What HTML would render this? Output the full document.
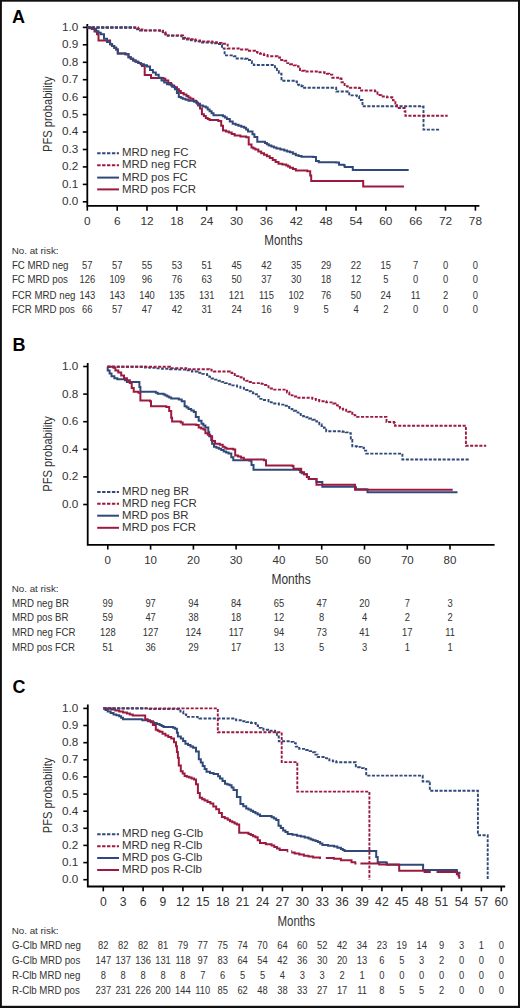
<!DOCTYPE html><html><head><meta charset="utf-8"><style>html,body{margin:0;padding:0;background:#fff;width:520px;height:1008px;overflow:hidden}svg{display:block}text{font-family:"Liberation Sans", sans-serif}</style></head><body>
<svg width="520" height="1008" viewBox="0 0 520 1008">
<rect x="0" y="0" width="520" height="1008" fill="#fff"/>
<rect x="0" y="0" width="520" height="1.7" fill="#111"/><rect x="0" y="0" width="1.9" height="1008" fill="#111"/><rect x="518" y="0" width="2" height="1008" fill="#111"/><rect x="0" y="1005.8" width="520" height="2.2" fill="#111"/>
<text x="12.0" y="22.8" font-size="18" font-weight="bold" fill="#000">A</text>
<path d="M87.3 24.0 V205.9 H479.4" fill="none" stroke="#000" stroke-width="1.8"/>
<line x1="82.8" y1="201.8" x2="87.3" y2="201.8" stroke="#000" stroke-width="1.6"/>
<text x="78.2" y="205.2" font-size="11.7" fill="#333333" text-anchor="end">0.0</text>
<line x1="82.8" y1="184.4" x2="87.3" y2="184.4" stroke="#000" stroke-width="1.6"/>
<text x="78.2" y="187.8" font-size="11.7" fill="#333333" text-anchor="end">0.1</text>
<line x1="82.8" y1="166.9" x2="87.3" y2="166.9" stroke="#000" stroke-width="1.6"/>
<text x="78.2" y="170.3" font-size="11.7" fill="#333333" text-anchor="end">0.2</text>
<line x1="82.8" y1="149.5" x2="87.3" y2="149.5" stroke="#000" stroke-width="1.6"/>
<text x="78.2" y="152.9" font-size="11.7" fill="#333333" text-anchor="end">0.3</text>
<line x1="82.8" y1="132.0" x2="87.3" y2="132.0" stroke="#000" stroke-width="1.6"/>
<text x="78.2" y="135.4" font-size="11.7" fill="#333333" text-anchor="end">0.4</text>
<line x1="82.8" y1="114.6" x2="87.3" y2="114.6" stroke="#000" stroke-width="1.6"/>
<text x="78.2" y="118.0" font-size="11.7" fill="#333333" text-anchor="end">0.5</text>
<line x1="82.8" y1="97.2" x2="87.3" y2="97.2" stroke="#000" stroke-width="1.6"/>
<text x="78.2" y="100.6" font-size="11.7" fill="#333333" text-anchor="end">0.6</text>
<line x1="82.8" y1="79.7" x2="87.3" y2="79.7" stroke="#000" stroke-width="1.6"/>
<text x="78.2" y="83.1" font-size="11.7" fill="#333333" text-anchor="end">0.7</text>
<line x1="82.8" y1="62.3" x2="87.3" y2="62.3" stroke="#000" stroke-width="1.6"/>
<text x="78.2" y="65.7" font-size="11.7" fill="#333333" text-anchor="end">0.8</text>
<line x1="82.8" y1="44.8" x2="87.3" y2="44.8" stroke="#000" stroke-width="1.6"/>
<text x="78.2" y="48.2" font-size="11.7" fill="#333333" text-anchor="end">0.9</text>
<line x1="82.8" y1="27.4" x2="87.3" y2="27.4" stroke="#000" stroke-width="1.6"/>
<text x="78.2" y="30.8" font-size="11.7" fill="#333333" text-anchor="end">1.0</text>
<line x1="87.3" y1="205.9" x2="87.3" y2="210.7" stroke="#000" stroke-width="1.6"/>
<text x="87.3" y="224.7" font-size="11.8" fill="#333333" text-anchor="middle">0</text>
<line x1="117.2" y1="205.9" x2="117.2" y2="210.7" stroke="#000" stroke-width="1.6"/>
<text x="117.2" y="224.7" font-size="11.8" fill="#333333" text-anchor="middle">6</text>
<line x1="147.0" y1="205.9" x2="147.0" y2="210.7" stroke="#000" stroke-width="1.6"/>
<text x="147.0" y="224.7" font-size="11.8" fill="#333333" text-anchor="middle">12</text>
<line x1="176.9" y1="205.9" x2="176.9" y2="210.7" stroke="#000" stroke-width="1.6"/>
<text x="176.9" y="224.7" font-size="11.8" fill="#333333" text-anchor="middle">18</text>
<line x1="206.7" y1="205.9" x2="206.7" y2="210.7" stroke="#000" stroke-width="1.6"/>
<text x="206.7" y="224.7" font-size="11.8" fill="#333333" text-anchor="middle">24</text>
<line x1="236.6" y1="205.9" x2="236.6" y2="210.7" stroke="#000" stroke-width="1.6"/>
<text x="236.6" y="224.7" font-size="11.8" fill="#333333" text-anchor="middle">30</text>
<line x1="266.4" y1="205.9" x2="266.4" y2="210.7" stroke="#000" stroke-width="1.6"/>
<text x="266.4" y="224.7" font-size="11.8" fill="#333333" text-anchor="middle">36</text>
<line x1="296.2" y1="205.9" x2="296.2" y2="210.7" stroke="#000" stroke-width="1.6"/>
<text x="296.2" y="224.7" font-size="11.8" fill="#333333" text-anchor="middle">42</text>
<line x1="326.1" y1="205.9" x2="326.1" y2="210.7" stroke="#000" stroke-width="1.6"/>
<text x="326.1" y="224.7" font-size="11.8" fill="#333333" text-anchor="middle">48</text>
<line x1="356.0" y1="205.9" x2="356.0" y2="210.7" stroke="#000" stroke-width="1.6"/>
<text x="356.0" y="224.7" font-size="11.8" fill="#333333" text-anchor="middle">54</text>
<line x1="385.8" y1="205.9" x2="385.8" y2="210.7" stroke="#000" stroke-width="1.6"/>
<text x="385.8" y="224.7" font-size="11.8" fill="#333333" text-anchor="middle">60</text>
<line x1="415.7" y1="205.9" x2="415.7" y2="210.7" stroke="#000" stroke-width="1.6"/>
<text x="415.7" y="224.7" font-size="11.8" fill="#333333" text-anchor="middle">66</text>
<line x1="445.5" y1="205.9" x2="445.5" y2="210.7" stroke="#000" stroke-width="1.6"/>
<text x="445.5" y="224.7" font-size="11.8" fill="#333333" text-anchor="middle">72</text>
<line x1="475.4" y1="205.9" x2="475.4" y2="210.7" stroke="#000" stroke-width="1.6"/>
<text x="475.4" y="224.7" font-size="11.8" fill="#333333" text-anchor="middle">78</text>
<text x="264.2" y="244.7" font-size="14" fill="#333333" textLength="38.3" lengthAdjust="spacingAndGlyphs">Months</text>
<text transform="translate(52.3 114.3) rotate(-90)" x="0" y="0" font-size="13.5" fill="#333333" text-anchor="middle" textLength="75.5" lengthAdjust="spacingAndGlyphs">PFS probability</text>
<text x="12.4" y="351.0" font-size="18" font-weight="bold" fill="#000">B</text>
<path d="M87.7 363.0 V544.8 H494.6" fill="none" stroke="#000" stroke-width="1.8"/>
<line x1="83.2" y1="504.5" x2="87.7" y2="504.5" stroke="#000" stroke-width="1.6"/>
<text x="78.2" y="507.9" font-size="11.7" fill="#333333" text-anchor="end">0.0</text>
<line x1="83.2" y1="476.9" x2="87.7" y2="476.9" stroke="#000" stroke-width="1.6"/>
<text x="78.2" y="480.3" font-size="11.7" fill="#333333" text-anchor="end">0.2</text>
<line x1="83.2" y1="449.3" x2="87.7" y2="449.3" stroke="#000" stroke-width="1.6"/>
<text x="78.2" y="452.7" font-size="11.7" fill="#333333" text-anchor="end">0.4</text>
<line x1="83.2" y1="421.7" x2="87.7" y2="421.7" stroke="#000" stroke-width="1.6"/>
<text x="78.2" y="425.1" font-size="11.7" fill="#333333" text-anchor="end">0.6</text>
<line x1="83.2" y1="394.1" x2="87.7" y2="394.1" stroke="#000" stroke-width="1.6"/>
<text x="78.2" y="397.5" font-size="11.7" fill="#333333" text-anchor="end">0.8</text>
<line x1="83.2" y1="366.5" x2="87.7" y2="366.5" stroke="#000" stroke-width="1.6"/>
<text x="78.2" y="369.9" font-size="11.7" fill="#333333" text-anchor="end">1.0</text>
<line x1="107.8" y1="544.8" x2="107.8" y2="549.6" stroke="#000" stroke-width="1.6"/>
<text x="107.8" y="563.8" font-size="11.5" fill="#333333" text-anchor="middle">0</text>
<line x1="150.6" y1="544.8" x2="150.6" y2="549.6" stroke="#000" stroke-width="1.6"/>
<text x="150.6" y="563.8" font-size="11.5" fill="#333333" text-anchor="middle">10</text>
<line x1="193.4" y1="544.8" x2="193.4" y2="549.6" stroke="#000" stroke-width="1.6"/>
<text x="193.4" y="563.8" font-size="11.5" fill="#333333" text-anchor="middle">20</text>
<line x1="236.1" y1="544.8" x2="236.1" y2="549.6" stroke="#000" stroke-width="1.6"/>
<text x="236.1" y="563.8" font-size="11.5" fill="#333333" text-anchor="middle">30</text>
<line x1="278.9" y1="544.8" x2="278.9" y2="549.6" stroke="#000" stroke-width="1.6"/>
<text x="278.9" y="563.8" font-size="11.5" fill="#333333" text-anchor="middle">40</text>
<line x1="321.7" y1="544.8" x2="321.7" y2="549.6" stroke="#000" stroke-width="1.6"/>
<text x="321.7" y="563.8" font-size="11.5" fill="#333333" text-anchor="middle">50</text>
<line x1="364.5" y1="544.8" x2="364.5" y2="549.6" stroke="#000" stroke-width="1.6"/>
<text x="364.5" y="563.8" font-size="11.5" fill="#333333" text-anchor="middle">60</text>
<line x1="407.3" y1="544.8" x2="407.3" y2="549.6" stroke="#000" stroke-width="1.6"/>
<text x="407.3" y="563.8" font-size="11.5" fill="#333333" text-anchor="middle">70</text>
<line x1="450.0" y1="544.8" x2="450.0" y2="549.6" stroke="#000" stroke-width="1.6"/>
<text x="450.0" y="563.8" font-size="11.5" fill="#333333" text-anchor="middle">80</text>
<text x="271.5" y="583.5" font-size="14" fill="#333333" textLength="39.2" lengthAdjust="spacingAndGlyphs">Months</text>
<text transform="translate(52.2 453.9) rotate(-90)" x="0" y="0" font-size="13.5" fill="#333333" text-anchor="middle" textLength="75.5" lengthAdjust="spacingAndGlyphs">PFS probability</text>
<text x="12.4" y="692.7" font-size="18" font-weight="bold" fill="#000">C</text>
<path d="M87.8 704.5 V886.5 H505.2" fill="none" stroke="#000" stroke-width="1.8"/>
<line x1="83.3" y1="879.7" x2="87.8" y2="879.7" stroke="#000" stroke-width="1.6"/>
<text x="78.2" y="883.1" font-size="11.7" fill="#333333" text-anchor="end">0.0</text>
<line x1="83.3" y1="862.6" x2="87.8" y2="862.6" stroke="#000" stroke-width="1.6"/>
<text x="78.2" y="866.0" font-size="11.7" fill="#333333" text-anchor="end">0.1</text>
<line x1="83.3" y1="845.4" x2="87.8" y2="845.4" stroke="#000" stroke-width="1.6"/>
<text x="78.2" y="848.8" font-size="11.7" fill="#333333" text-anchor="end">0.2</text>
<line x1="83.3" y1="828.3" x2="87.8" y2="828.3" stroke="#000" stroke-width="1.6"/>
<text x="78.2" y="831.7" font-size="11.7" fill="#333333" text-anchor="end">0.3</text>
<line x1="83.3" y1="811.2" x2="87.8" y2="811.2" stroke="#000" stroke-width="1.6"/>
<text x="78.2" y="814.6" font-size="11.7" fill="#333333" text-anchor="end">0.4</text>
<line x1="83.3" y1="794.1" x2="87.8" y2="794.1" stroke="#000" stroke-width="1.6"/>
<text x="78.2" y="797.5" font-size="11.7" fill="#333333" text-anchor="end">0.5</text>
<line x1="83.3" y1="776.9" x2="87.8" y2="776.9" stroke="#000" stroke-width="1.6"/>
<text x="78.2" y="780.3" font-size="11.7" fill="#333333" text-anchor="end">0.6</text>
<line x1="83.3" y1="759.8" x2="87.8" y2="759.8" stroke="#000" stroke-width="1.6"/>
<text x="78.2" y="763.2" font-size="11.7" fill="#333333" text-anchor="end">0.7</text>
<line x1="83.3" y1="742.7" x2="87.8" y2="742.7" stroke="#000" stroke-width="1.6"/>
<text x="78.2" y="746.1" font-size="11.7" fill="#333333" text-anchor="end">0.8</text>
<line x1="83.3" y1="725.5" x2="87.8" y2="725.5" stroke="#000" stroke-width="1.6"/>
<text x="78.2" y="728.9" font-size="11.7" fill="#333333" text-anchor="end">0.9</text>
<line x1="83.3" y1="708.4" x2="87.8" y2="708.4" stroke="#000" stroke-width="1.6"/>
<text x="78.2" y="711.8" font-size="11.7" fill="#333333" text-anchor="end">1.0</text>
<line x1="103.3" y1="886.5" x2="103.3" y2="891.3" stroke="#000" stroke-width="1.6"/>
<text x="103.3" y="905.7" font-size="12.2" fill="#333333" text-anchor="middle">0</text>
<line x1="123.2" y1="886.5" x2="123.2" y2="891.3" stroke="#000" stroke-width="1.6"/>
<text x="123.2" y="905.7" font-size="12.2" fill="#333333" text-anchor="middle">3</text>
<line x1="143.1" y1="886.5" x2="143.1" y2="891.3" stroke="#000" stroke-width="1.6"/>
<text x="143.1" y="905.7" font-size="12.2" fill="#333333" text-anchor="middle">6</text>
<line x1="163.0" y1="886.5" x2="163.0" y2="891.3" stroke="#000" stroke-width="1.6"/>
<text x="163.0" y="905.7" font-size="12.2" fill="#333333" text-anchor="middle">9</text>
<line x1="182.9" y1="886.5" x2="182.9" y2="891.3" stroke="#000" stroke-width="1.6"/>
<text x="182.9" y="905.7" font-size="12.2" fill="#333333" text-anchor="middle">12</text>
<line x1="202.8" y1="886.5" x2="202.8" y2="891.3" stroke="#000" stroke-width="1.6"/>
<text x="202.8" y="905.7" font-size="12.2" fill="#333333" text-anchor="middle">15</text>
<line x1="222.7" y1="886.5" x2="222.7" y2="891.3" stroke="#000" stroke-width="1.6"/>
<text x="222.7" y="905.7" font-size="12.2" fill="#333333" text-anchor="middle">18</text>
<line x1="242.6" y1="886.5" x2="242.6" y2="891.3" stroke="#000" stroke-width="1.6"/>
<text x="242.6" y="905.7" font-size="12.2" fill="#333333" text-anchor="middle">21</text>
<line x1="262.5" y1="886.5" x2="262.5" y2="891.3" stroke="#000" stroke-width="1.6"/>
<text x="262.5" y="905.7" font-size="12.2" fill="#333333" text-anchor="middle">24</text>
<line x1="282.4" y1="886.5" x2="282.4" y2="891.3" stroke="#000" stroke-width="1.6"/>
<text x="282.4" y="905.7" font-size="12.2" fill="#333333" text-anchor="middle">27</text>
<line x1="302.3" y1="886.5" x2="302.3" y2="891.3" stroke="#000" stroke-width="1.6"/>
<text x="302.3" y="905.7" font-size="12.2" fill="#333333" text-anchor="middle">30</text>
<line x1="322.2" y1="886.5" x2="322.2" y2="891.3" stroke="#000" stroke-width="1.6"/>
<text x="322.2" y="905.7" font-size="12.2" fill="#333333" text-anchor="middle">33</text>
<line x1="342.1" y1="886.5" x2="342.1" y2="891.3" stroke="#000" stroke-width="1.6"/>
<text x="342.1" y="905.7" font-size="12.2" fill="#333333" text-anchor="middle">36</text>
<line x1="362.0" y1="886.5" x2="362.0" y2="891.3" stroke="#000" stroke-width="1.6"/>
<text x="362.0" y="905.7" font-size="12.2" fill="#333333" text-anchor="middle">39</text>
<line x1="381.9" y1="886.5" x2="381.9" y2="891.3" stroke="#000" stroke-width="1.6"/>
<text x="381.9" y="905.7" font-size="12.2" fill="#333333" text-anchor="middle">42</text>
<line x1="401.8" y1="886.5" x2="401.8" y2="891.3" stroke="#000" stroke-width="1.6"/>
<text x="401.8" y="905.7" font-size="12.2" fill="#333333" text-anchor="middle">45</text>
<line x1="421.7" y1="886.5" x2="421.7" y2="891.3" stroke="#000" stroke-width="1.6"/>
<text x="421.7" y="905.7" font-size="12.2" fill="#333333" text-anchor="middle">48</text>
<line x1="441.6" y1="886.5" x2="441.6" y2="891.3" stroke="#000" stroke-width="1.6"/>
<text x="441.6" y="905.7" font-size="12.2" fill="#333333" text-anchor="middle">51</text>
<line x1="461.5" y1="886.5" x2="461.5" y2="891.3" stroke="#000" stroke-width="1.6"/>
<text x="461.5" y="905.7" font-size="12.2" fill="#333333" text-anchor="middle">54</text>
<line x1="481.4" y1="886.5" x2="481.4" y2="891.3" stroke="#000" stroke-width="1.6"/>
<text x="481.4" y="905.7" font-size="12.2" fill="#333333" text-anchor="middle">57</text>
<line x1="501.3" y1="886.5" x2="501.3" y2="891.3" stroke="#000" stroke-width="1.6"/>
<text x="501.3" y="905.7" font-size="12.2" fill="#333333" text-anchor="middle">60</text>
<text x="277.5" y="925.5" font-size="14" fill="#333333" textLength="37.6" lengthAdjust="spacingAndGlyphs">Months</text>
<text transform="translate(52.2 795.4) rotate(-90)" x="0" y="0" font-size="13.5" fill="#333333" text-anchor="middle" textLength="75.5" lengthAdjust="spacingAndGlyphs">PFS probability</text>
<line x1="97.2" y1="153.2" x2="119.0" y2="153.2" stroke="#30497a" stroke-width="2" stroke-dasharray="3.4 1.5"/>
<text x="122.0" y="156.3" font-size="11.4" fill="#333333">MRD neg FC</text>
<line x1="97.2" y1="165.2" x2="119.0" y2="165.2" stroke="#9c1a40" stroke-width="2" stroke-dasharray="3.4 1.5"/>
<text x="122.0" y="168.3" font-size="11.4" fill="#333333">MRD neg FCR</text>
<line x1="97.2" y1="177.6" x2="119.0" y2="177.6" stroke="#30497a" stroke-width="2"/>
<text x="122.0" y="180.7" font-size="11.4" fill="#333333">MRD pos FC</text>
<line x1="97.2" y1="189.4" x2="119.0" y2="189.4" stroke="#9c1a40" stroke-width="2"/>
<text x="122.0" y="192.5" font-size="11.4" fill="#333333">MRD pos FCR</text>
<line x1="97.2" y1="492.1" x2="119.0" y2="492.1" stroke="#30497a" stroke-width="2" stroke-dasharray="3.4 1.5"/>
<text x="122.0" y="495.2" font-size="11.4" fill="#333333">MRD neg BR</text>
<line x1="97.2" y1="503.8" x2="119.0" y2="503.8" stroke="#9c1a40" stroke-width="2" stroke-dasharray="3.4 1.5"/>
<text x="122.0" y="506.9" font-size="11.4" fill="#333333">MRD neg FCR</text>
<line x1="97.2" y1="515.7" x2="119.0" y2="515.7" stroke="#30497a" stroke-width="2"/>
<text x="122.0" y="518.8" font-size="11.4" fill="#333333">MRD pos BR</text>
<line x1="97.2" y1="527.8" x2="119.0" y2="527.8" stroke="#9c1a40" stroke-width="2"/>
<text x="122.0" y="530.9" font-size="11.4" fill="#333333">MRD pos FCR</text>
<line x1="97.2" y1="834.2" x2="119.0" y2="834.2" stroke="#30497a" stroke-width="2" stroke-dasharray="3.4 1.5"/>
<text x="122.0" y="837.3" font-size="11.4" fill="#333333">MRD neg G-Clb</text>
<line x1="97.2" y1="846.2" x2="119.0" y2="846.2" stroke="#9c1a40" stroke-width="2" stroke-dasharray="3.4 1.5"/>
<text x="122.0" y="849.3" font-size="11.4" fill="#333333">MRD neg R-Clb</text>
<line x1="97.2" y1="858.0" x2="119.0" y2="858.0" stroke="#30497a" stroke-width="2"/>
<text x="122.0" y="861.1" font-size="11.4" fill="#333333">MRD pos G-Clb</text>
<line x1="97.2" y1="870.0" x2="119.0" y2="870.0" stroke="#9c1a40" stroke-width="2"/>
<text x="122.0" y="873.1" font-size="11.4" fill="#333333">MRD pos R-Clb</text>
<text transform="translate(11.7 253.8) scale(1.0 1)" font-size="9.8" fill="#333333">No. at risk:</text>
<text transform="translate(11.9 268.7) scale(0.97 1)" font-size="10" fill="#333333">FC MRD neg</text>
<text transform="translate(87.3 268.7) scale(0.91 1)" font-size="10.3" fill="#333333" text-anchor="middle">57</text>
<text transform="translate(117.2 268.7) scale(0.91 1)" font-size="10.3" fill="#333333" text-anchor="middle">57</text>
<text transform="translate(147.0 268.7) scale(0.91 1)" font-size="10.3" fill="#333333" text-anchor="middle">55</text>
<text transform="translate(176.9 268.7) scale(0.91 1)" font-size="10.3" fill="#333333" text-anchor="middle">53</text>
<text transform="translate(206.7 268.7) scale(0.91 1)" font-size="10.3" fill="#333333" text-anchor="middle">51</text>
<text transform="translate(236.6 268.7) scale(0.91 1)" font-size="10.3" fill="#333333" text-anchor="middle">45</text>
<text transform="translate(266.4 268.7) scale(0.91 1)" font-size="10.3" fill="#333333" text-anchor="middle">42</text>
<text transform="translate(296.2 268.7) scale(0.91 1)" font-size="10.3" fill="#333333" text-anchor="middle">35</text>
<text transform="translate(326.1 268.7) scale(0.91 1)" font-size="10.3" fill="#333333" text-anchor="middle">29</text>
<text transform="translate(356.0 268.7) scale(0.91 1)" font-size="10.3" fill="#333333" text-anchor="middle">22</text>
<text transform="translate(385.8 268.7) scale(0.91 1)" font-size="10.3" fill="#333333" text-anchor="middle">15</text>
<text transform="translate(415.7 268.7) scale(0.91 1)" font-size="10.3" fill="#333333" text-anchor="middle">7</text>
<text transform="translate(445.5 268.7) scale(0.91 1)" font-size="10.3" fill="#333333" text-anchor="middle">0</text>
<text transform="translate(475.4 268.7) scale(0.91 1)" font-size="10.3" fill="#333333" text-anchor="middle">0</text>
<text transform="translate(11.9 283.4) scale(0.97 1)" font-size="10" fill="#333333">FC MRD pos</text>
<text transform="translate(87.3 283.4) scale(0.91 1)" font-size="10.3" fill="#333333" text-anchor="middle">126</text>
<text transform="translate(117.2 283.4) scale(0.91 1)" font-size="10.3" fill="#333333" text-anchor="middle">109</text>
<text transform="translate(147.0 283.4) scale(0.91 1)" font-size="10.3" fill="#333333" text-anchor="middle">96</text>
<text transform="translate(176.9 283.4) scale(0.91 1)" font-size="10.3" fill="#333333" text-anchor="middle">76</text>
<text transform="translate(206.7 283.4) scale(0.91 1)" font-size="10.3" fill="#333333" text-anchor="middle">63</text>
<text transform="translate(236.6 283.4) scale(0.91 1)" font-size="10.3" fill="#333333" text-anchor="middle">50</text>
<text transform="translate(266.4 283.4) scale(0.91 1)" font-size="10.3" fill="#333333" text-anchor="middle">37</text>
<text transform="translate(296.2 283.4) scale(0.91 1)" font-size="10.3" fill="#333333" text-anchor="middle">30</text>
<text transform="translate(326.1 283.4) scale(0.91 1)" font-size="10.3" fill="#333333" text-anchor="middle">18</text>
<text transform="translate(356.0 283.4) scale(0.91 1)" font-size="10.3" fill="#333333" text-anchor="middle">12</text>
<text transform="translate(385.8 283.4) scale(0.91 1)" font-size="10.3" fill="#333333" text-anchor="middle">5</text>
<text transform="translate(415.7 283.4) scale(0.91 1)" font-size="10.3" fill="#333333" text-anchor="middle">0</text>
<text transform="translate(445.5 283.4) scale(0.91 1)" font-size="10.3" fill="#333333" text-anchor="middle">0</text>
<text transform="translate(475.4 283.4) scale(0.91 1)" font-size="10.3" fill="#333333" text-anchor="middle">0</text>
<text transform="translate(11.9 298.7) scale(0.97 1)" font-size="10" fill="#333333">FCR MRD neg</text>
<text transform="translate(87.3 298.7) scale(0.91 1)" font-size="10.3" fill="#333333" text-anchor="middle">143</text>
<text transform="translate(117.2 298.7) scale(0.91 1)" font-size="10.3" fill="#333333" text-anchor="middle">143</text>
<text transform="translate(147.0 298.7) scale(0.91 1)" font-size="10.3" fill="#333333" text-anchor="middle">140</text>
<text transform="translate(176.9 298.7) scale(0.91 1)" font-size="10.3" fill="#333333" text-anchor="middle">135</text>
<text transform="translate(206.7 298.7) scale(0.91 1)" font-size="10.3" fill="#333333" text-anchor="middle">131</text>
<text transform="translate(236.6 298.7) scale(0.91 1)" font-size="10.3" fill="#333333" text-anchor="middle">121</text>
<text transform="translate(266.4 298.7) scale(0.91 1)" font-size="10.3" fill="#333333" text-anchor="middle">115</text>
<text transform="translate(296.2 298.7) scale(0.91 1)" font-size="10.3" fill="#333333" text-anchor="middle">102</text>
<text transform="translate(326.1 298.7) scale(0.91 1)" font-size="10.3" fill="#333333" text-anchor="middle">76</text>
<text transform="translate(356.0 298.7) scale(0.91 1)" font-size="10.3" fill="#333333" text-anchor="middle">50</text>
<text transform="translate(385.8 298.7) scale(0.91 1)" font-size="10.3" fill="#333333" text-anchor="middle">24</text>
<text transform="translate(415.7 298.7) scale(0.91 1)" font-size="10.3" fill="#333333" text-anchor="middle">11</text>
<text transform="translate(445.5 298.7) scale(0.91 1)" font-size="10.3" fill="#333333" text-anchor="middle">2</text>
<text transform="translate(475.4 298.7) scale(0.91 1)" font-size="10.3" fill="#333333" text-anchor="middle">0</text>
<text transform="translate(11.9 313.4) scale(0.97 1)" font-size="10" fill="#333333">FCR MRD pos</text>
<text transform="translate(87.3 313.4) scale(0.91 1)" font-size="10.3" fill="#333333" text-anchor="middle">66</text>
<text transform="translate(117.2 313.4) scale(0.91 1)" font-size="10.3" fill="#333333" text-anchor="middle">57</text>
<text transform="translate(147.0 313.4) scale(0.91 1)" font-size="10.3" fill="#333333" text-anchor="middle">47</text>
<text transform="translate(176.9 313.4) scale(0.91 1)" font-size="10.3" fill="#333333" text-anchor="middle">42</text>
<text transform="translate(206.7 313.4) scale(0.91 1)" font-size="10.3" fill="#333333" text-anchor="middle">31</text>
<text transform="translate(236.6 313.4) scale(0.91 1)" font-size="10.3" fill="#333333" text-anchor="middle">24</text>
<text transform="translate(266.4 313.4) scale(0.91 1)" font-size="10.3" fill="#333333" text-anchor="middle">16</text>
<text transform="translate(296.2 313.4) scale(0.91 1)" font-size="10.3" fill="#333333" text-anchor="middle">9</text>
<text transform="translate(326.1 313.4) scale(0.91 1)" font-size="10.3" fill="#333333" text-anchor="middle">5</text>
<text transform="translate(356.0 313.4) scale(0.91 1)" font-size="10.3" fill="#333333" text-anchor="middle">4</text>
<text transform="translate(385.8 313.4) scale(0.91 1)" font-size="10.3" fill="#333333" text-anchor="middle">2</text>
<text transform="translate(415.7 313.4) scale(0.91 1)" font-size="10.3" fill="#333333" text-anchor="middle">0</text>
<text transform="translate(445.5 313.4) scale(0.91 1)" font-size="10.3" fill="#333333" text-anchor="middle">0</text>
<text transform="translate(475.4 313.4) scale(0.91 1)" font-size="10.3" fill="#333333" text-anchor="middle">0</text>
<text transform="translate(11.7 591.6) scale(1.0 1)" font-size="9.8" fill="#333333">No. at risk:</text>
<text transform="translate(11.9 606.7) scale(0.97 1)" font-size="10" fill="#333333">MRD neg BR</text>
<text transform="translate(107.8 606.7) scale(0.91 1)" font-size="10.3" fill="#333333" text-anchor="middle">99</text>
<text transform="translate(150.6 606.7) scale(0.91 1)" font-size="10.3" fill="#333333" text-anchor="middle">97</text>
<text transform="translate(193.4 606.7) scale(0.91 1)" font-size="10.3" fill="#333333" text-anchor="middle">94</text>
<text transform="translate(236.1 606.7) scale(0.91 1)" font-size="10.3" fill="#333333" text-anchor="middle">84</text>
<text transform="translate(278.9 606.7) scale(0.91 1)" font-size="10.3" fill="#333333" text-anchor="middle">65</text>
<text transform="translate(321.7 606.7) scale(0.91 1)" font-size="10.3" fill="#333333" text-anchor="middle">47</text>
<text transform="translate(364.5 606.7) scale(0.91 1)" font-size="10.3" fill="#333333" text-anchor="middle">20</text>
<text transform="translate(407.3 606.7) scale(0.91 1)" font-size="10.3" fill="#333333" text-anchor="middle">7</text>
<text transform="translate(450.0 606.7) scale(0.91 1)" font-size="10.3" fill="#333333" text-anchor="middle">3</text>
<text transform="translate(11.9 621.2) scale(0.97 1)" font-size="10" fill="#333333">MRD pos BR</text>
<text transform="translate(107.8 621.2) scale(0.91 1)" font-size="10.3" fill="#333333" text-anchor="middle">59</text>
<text transform="translate(150.6 621.2) scale(0.91 1)" font-size="10.3" fill="#333333" text-anchor="middle">47</text>
<text transform="translate(193.4 621.2) scale(0.91 1)" font-size="10.3" fill="#333333" text-anchor="middle">38</text>
<text transform="translate(236.1 621.2) scale(0.91 1)" font-size="10.3" fill="#333333" text-anchor="middle">18</text>
<text transform="translate(278.9 621.2) scale(0.91 1)" font-size="10.3" fill="#333333" text-anchor="middle">12</text>
<text transform="translate(321.7 621.2) scale(0.91 1)" font-size="10.3" fill="#333333" text-anchor="middle">8</text>
<text transform="translate(364.5 621.2) scale(0.91 1)" font-size="10.3" fill="#333333" text-anchor="middle">4</text>
<text transform="translate(407.3 621.2) scale(0.91 1)" font-size="10.3" fill="#333333" text-anchor="middle">2</text>
<text transform="translate(450.0 621.2) scale(0.91 1)" font-size="10.3" fill="#333333" text-anchor="middle">2</text>
<text transform="translate(11.9 636.2) scale(0.97 1)" font-size="10" fill="#333333">MRD neg FCR</text>
<text transform="translate(107.8 636.2) scale(0.91 1)" font-size="10.3" fill="#333333" text-anchor="middle">128</text>
<text transform="translate(150.6 636.2) scale(0.91 1)" font-size="10.3" fill="#333333" text-anchor="middle">127</text>
<text transform="translate(193.4 636.2) scale(0.91 1)" font-size="10.3" fill="#333333" text-anchor="middle">124</text>
<text transform="translate(236.1 636.2) scale(0.91 1)" font-size="10.3" fill="#333333" text-anchor="middle">117</text>
<text transform="translate(278.9 636.2) scale(0.91 1)" font-size="10.3" fill="#333333" text-anchor="middle">94</text>
<text transform="translate(321.7 636.2) scale(0.91 1)" font-size="10.3" fill="#333333" text-anchor="middle">73</text>
<text transform="translate(364.5 636.2) scale(0.91 1)" font-size="10.3" fill="#333333" text-anchor="middle">41</text>
<text transform="translate(407.3 636.2) scale(0.91 1)" font-size="10.3" fill="#333333" text-anchor="middle">17</text>
<text transform="translate(450.0 636.2) scale(0.91 1)" font-size="10.3" fill="#333333" text-anchor="middle">11</text>
<text transform="translate(11.9 651.4) scale(0.97 1)" font-size="10" fill="#333333">MRD pos FCR</text>
<text transform="translate(107.8 651.4) scale(0.91 1)" font-size="10.3" fill="#333333" text-anchor="middle">51</text>
<text transform="translate(150.6 651.4) scale(0.91 1)" font-size="10.3" fill="#333333" text-anchor="middle">36</text>
<text transform="translate(193.4 651.4) scale(0.91 1)" font-size="10.3" fill="#333333" text-anchor="middle">29</text>
<text transform="translate(236.1 651.4) scale(0.91 1)" font-size="10.3" fill="#333333" text-anchor="middle">17</text>
<text transform="translate(278.9 651.4) scale(0.91 1)" font-size="10.3" fill="#333333" text-anchor="middle">13</text>
<text transform="translate(321.7 651.4) scale(0.91 1)" font-size="10.3" fill="#333333" text-anchor="middle">5</text>
<text transform="translate(364.5 651.4) scale(0.91 1)" font-size="10.3" fill="#333333" text-anchor="middle">3</text>
<text transform="translate(407.3 651.4) scale(0.91 1)" font-size="10.3" fill="#333333" text-anchor="middle">1</text>
<text transform="translate(450.0 651.4) scale(0.91 1)" font-size="10.3" fill="#333333" text-anchor="middle">1</text>
<text transform="translate(11.7 934.1) scale(1.0 1)" font-size="9.8" fill="#333333">No. at risk:</text>
<text transform="translate(11.9 949.2) scale(0.97 1)" font-size="10" fill="#333333">G-Clb MRD neg</text>
<text transform="translate(103.3 949.2) scale(0.91 1)" font-size="10.3" fill="#333333" text-anchor="middle">82</text>
<text transform="translate(123.2 949.2) scale(0.91 1)" font-size="10.3" fill="#333333" text-anchor="middle">82</text>
<text transform="translate(143.1 949.2) scale(0.91 1)" font-size="10.3" fill="#333333" text-anchor="middle">82</text>
<text transform="translate(163.0 949.2) scale(0.91 1)" font-size="10.3" fill="#333333" text-anchor="middle">81</text>
<text transform="translate(182.9 949.2) scale(0.91 1)" font-size="10.3" fill="#333333" text-anchor="middle">79</text>
<text transform="translate(202.8 949.2) scale(0.91 1)" font-size="10.3" fill="#333333" text-anchor="middle">77</text>
<text transform="translate(222.7 949.2) scale(0.91 1)" font-size="10.3" fill="#333333" text-anchor="middle">75</text>
<text transform="translate(242.6 949.2) scale(0.91 1)" font-size="10.3" fill="#333333" text-anchor="middle">74</text>
<text transform="translate(262.5 949.2) scale(0.91 1)" font-size="10.3" fill="#333333" text-anchor="middle">70</text>
<text transform="translate(282.4 949.2) scale(0.91 1)" font-size="10.3" fill="#333333" text-anchor="middle">64</text>
<text transform="translate(302.3 949.2) scale(0.91 1)" font-size="10.3" fill="#333333" text-anchor="middle">60</text>
<text transform="translate(322.2 949.2) scale(0.91 1)" font-size="10.3" fill="#333333" text-anchor="middle">52</text>
<text transform="translate(342.1 949.2) scale(0.91 1)" font-size="10.3" fill="#333333" text-anchor="middle">42</text>
<text transform="translate(362.0 949.2) scale(0.91 1)" font-size="10.3" fill="#333333" text-anchor="middle">34</text>
<text transform="translate(381.9 949.2) scale(0.91 1)" font-size="10.3" fill="#333333" text-anchor="middle">23</text>
<text transform="translate(401.8 949.2) scale(0.91 1)" font-size="10.3" fill="#333333" text-anchor="middle">19</text>
<text transform="translate(421.7 949.2) scale(0.91 1)" font-size="10.3" fill="#333333" text-anchor="middle">14</text>
<text transform="translate(441.6 949.2) scale(0.91 1)" font-size="10.3" fill="#333333" text-anchor="middle">9</text>
<text transform="translate(461.5 949.2) scale(0.91 1)" font-size="10.3" fill="#333333" text-anchor="middle">3</text>
<text transform="translate(481.4 949.2) scale(0.91 1)" font-size="10.3" fill="#333333" text-anchor="middle">1</text>
<text transform="translate(501.3 949.2) scale(0.91 1)" font-size="10.3" fill="#333333" text-anchor="middle">0</text>
<text transform="translate(11.9 963.7) scale(0.97 1)" font-size="10" fill="#333333">G-Clb MRD pos</text>
<text transform="translate(103.3 963.7) scale(0.91 1)" font-size="10.3" fill="#333333" text-anchor="middle">147</text>
<text transform="translate(123.2 963.7) scale(0.91 1)" font-size="10.3" fill="#333333" text-anchor="middle">137</text>
<text transform="translate(143.1 963.7) scale(0.91 1)" font-size="10.3" fill="#333333" text-anchor="middle">136</text>
<text transform="translate(163.0 963.7) scale(0.91 1)" font-size="10.3" fill="#333333" text-anchor="middle">131</text>
<text transform="translate(182.9 963.7) scale(0.91 1)" font-size="10.3" fill="#333333" text-anchor="middle">118</text>
<text transform="translate(202.8 963.7) scale(0.91 1)" font-size="10.3" fill="#333333" text-anchor="middle">97</text>
<text transform="translate(222.7 963.7) scale(0.91 1)" font-size="10.3" fill="#333333" text-anchor="middle">83</text>
<text transform="translate(242.6 963.7) scale(0.91 1)" font-size="10.3" fill="#333333" text-anchor="middle">64</text>
<text transform="translate(262.5 963.7) scale(0.91 1)" font-size="10.3" fill="#333333" text-anchor="middle">54</text>
<text transform="translate(282.4 963.7) scale(0.91 1)" font-size="10.3" fill="#333333" text-anchor="middle">42</text>
<text transform="translate(302.3 963.7) scale(0.91 1)" font-size="10.3" fill="#333333" text-anchor="middle">36</text>
<text transform="translate(322.2 963.7) scale(0.91 1)" font-size="10.3" fill="#333333" text-anchor="middle">30</text>
<text transform="translate(342.1 963.7) scale(0.91 1)" font-size="10.3" fill="#333333" text-anchor="middle">20</text>
<text transform="translate(362.0 963.7) scale(0.91 1)" font-size="10.3" fill="#333333" text-anchor="middle">13</text>
<text transform="translate(381.9 963.7) scale(0.91 1)" font-size="10.3" fill="#333333" text-anchor="middle">6</text>
<text transform="translate(401.8 963.7) scale(0.91 1)" font-size="10.3" fill="#333333" text-anchor="middle">5</text>
<text transform="translate(421.7 963.7) scale(0.91 1)" font-size="10.3" fill="#333333" text-anchor="middle">3</text>
<text transform="translate(441.6 963.7) scale(0.91 1)" font-size="10.3" fill="#333333" text-anchor="middle">2</text>
<text transform="translate(461.5 963.7) scale(0.91 1)" font-size="10.3" fill="#333333" text-anchor="middle">0</text>
<text transform="translate(481.4 963.7) scale(0.91 1)" font-size="10.3" fill="#333333" text-anchor="middle">0</text>
<text transform="translate(501.3 963.7) scale(0.91 1)" font-size="10.3" fill="#333333" text-anchor="middle">0</text>
<text transform="translate(11.9 979.2) scale(0.97 1)" font-size="10" fill="#333333">R-Clb MRD neg</text>
<text transform="translate(103.3 979.2) scale(0.91 1)" font-size="10.3" fill="#333333" text-anchor="middle">8</text>
<text transform="translate(123.2 979.2) scale(0.91 1)" font-size="10.3" fill="#333333" text-anchor="middle">8</text>
<text transform="translate(143.1 979.2) scale(0.91 1)" font-size="10.3" fill="#333333" text-anchor="middle">8</text>
<text transform="translate(163.0 979.2) scale(0.91 1)" font-size="10.3" fill="#333333" text-anchor="middle">8</text>
<text transform="translate(182.9 979.2) scale(0.91 1)" font-size="10.3" fill="#333333" text-anchor="middle">8</text>
<text transform="translate(202.8 979.2) scale(0.91 1)" font-size="10.3" fill="#333333" text-anchor="middle">7</text>
<text transform="translate(222.7 979.2) scale(0.91 1)" font-size="10.3" fill="#333333" text-anchor="middle">6</text>
<text transform="translate(242.6 979.2) scale(0.91 1)" font-size="10.3" fill="#333333" text-anchor="middle">5</text>
<text transform="translate(262.5 979.2) scale(0.91 1)" font-size="10.3" fill="#333333" text-anchor="middle">5</text>
<text transform="translate(282.4 979.2) scale(0.91 1)" font-size="10.3" fill="#333333" text-anchor="middle">4</text>
<text transform="translate(302.3 979.2) scale(0.91 1)" font-size="10.3" fill="#333333" text-anchor="middle">3</text>
<text transform="translate(322.2 979.2) scale(0.91 1)" font-size="10.3" fill="#333333" text-anchor="middle">3</text>
<text transform="translate(342.1 979.2) scale(0.91 1)" font-size="10.3" fill="#333333" text-anchor="middle">2</text>
<text transform="translate(362.0 979.2) scale(0.91 1)" font-size="10.3" fill="#333333" text-anchor="middle">1</text>
<text transform="translate(381.9 979.2) scale(0.91 1)" font-size="10.3" fill="#333333" text-anchor="middle">0</text>
<text transform="translate(401.8 979.2) scale(0.91 1)" font-size="10.3" fill="#333333" text-anchor="middle">0</text>
<text transform="translate(421.7 979.2) scale(0.91 1)" font-size="10.3" fill="#333333" text-anchor="middle">0</text>
<text transform="translate(441.6 979.2) scale(0.91 1)" font-size="10.3" fill="#333333" text-anchor="middle">0</text>
<text transform="translate(461.5 979.2) scale(0.91 1)" font-size="10.3" fill="#333333" text-anchor="middle">0</text>
<text transform="translate(481.4 979.2) scale(0.91 1)" font-size="10.3" fill="#333333" text-anchor="middle">0</text>
<text transform="translate(501.3 979.2) scale(0.91 1)" font-size="10.3" fill="#333333" text-anchor="middle">0</text>
<text transform="translate(11.9 993.7) scale(0.97 1)" font-size="10" fill="#333333">R-Clb MRD pos</text>
<text transform="translate(103.3 993.7) scale(0.91 1)" font-size="10.3" fill="#333333" text-anchor="middle">237</text>
<text transform="translate(123.2 993.7) scale(0.91 1)" font-size="10.3" fill="#333333" text-anchor="middle">231</text>
<text transform="translate(143.1 993.7) scale(0.91 1)" font-size="10.3" fill="#333333" text-anchor="middle">226</text>
<text transform="translate(163.0 993.7) scale(0.91 1)" font-size="10.3" fill="#333333" text-anchor="middle">200</text>
<text transform="translate(182.9 993.7) scale(0.91 1)" font-size="10.3" fill="#333333" text-anchor="middle">144</text>
<text transform="translate(202.8 993.7) scale(0.91 1)" font-size="10.3" fill="#333333" text-anchor="middle">110</text>
<text transform="translate(222.7 993.7) scale(0.91 1)" font-size="10.3" fill="#333333" text-anchor="middle">85</text>
<text transform="translate(242.6 993.7) scale(0.91 1)" font-size="10.3" fill="#333333" text-anchor="middle">62</text>
<text transform="translate(262.5 993.7) scale(0.91 1)" font-size="10.3" fill="#333333" text-anchor="middle">48</text>
<text transform="translate(282.4 993.7) scale(0.91 1)" font-size="10.3" fill="#333333" text-anchor="middle">38</text>
<text transform="translate(302.3 993.7) scale(0.91 1)" font-size="10.3" fill="#333333" text-anchor="middle">33</text>
<text transform="translate(322.2 993.7) scale(0.91 1)" font-size="10.3" fill="#333333" text-anchor="middle">27</text>
<text transform="translate(342.1 993.7) scale(0.91 1)" font-size="10.3" fill="#333333" text-anchor="middle">17</text>
<text transform="translate(362.0 993.7) scale(0.91 1)" font-size="10.3" fill="#333333" text-anchor="middle">11</text>
<text transform="translate(381.9 993.7) scale(0.91 1)" font-size="10.3" fill="#333333" text-anchor="middle">8</text>
<text transform="translate(401.8 993.7) scale(0.91 1)" font-size="10.3" fill="#333333" text-anchor="middle">5</text>
<text transform="translate(421.7 993.7) scale(0.91 1)" font-size="10.3" fill="#333333" text-anchor="middle">5</text>
<text transform="translate(441.6 993.7) scale(0.91 1)" font-size="10.3" fill="#333333" text-anchor="middle">2</text>
<text transform="translate(461.5 993.7) scale(0.91 1)" font-size="10.3" fill="#333333" text-anchor="middle">0</text>
<text transform="translate(481.4 993.7) scale(0.91 1)" font-size="10.3" fill="#333333" text-anchor="middle">0</text>
<text transform="translate(501.3 993.7) scale(0.91 1)" font-size="10.3" fill="#333333" text-anchor="middle">0</text>
<path d="M87.3 27.5 H89.7 V28.2 H92.0 V29.0 H94.5 V31.6 H97.0 V34.2 H98.5 V40.4 H108.0 H110.1 V44.2 H112.1 V46.0 H114.2 V47.8 H116.2 V49.6 H117.8 V53.5 H125.5 V54.2 H128.5 V57.3 H130.8 V58.8 H133.2 V60.4 H135.7 V61.7 H138.3 V62.9 H140.8 V64.2 H142.0 V66.0 H144.7 V75.0 H150.8 H151.0 V78.1 H159.3 H163.5 V78.7 H165.4 V80.6 H168.3 V83.0 H171.2 V85.4 H174.1 V87.3 H177.0 V89.2 H178.9 V91.1 H180.8 V93.0 H183.7 V94.5 H186.5 V96.0 H188.4 V97.4 H190.4 V98.8 H193.3 V100.8 H196.2 V102.7 H198.1 V105.6 H200.0 V108.5 H201.9 V114.2 H203.9 V116.1 H205.8 V118.0 H207.7 V119.0 H209.6 V120.0 H218.3 V121.0 H221.2 V125.8 H223.0 V130.6 H225.9 V131.6 H228.8 V132.5 H231.7 V133.9 H234.6 V135.4 H240.4 V136.4 H246.2 V137.3 H248.7 V144.6 H251.5 V147.5 H253.4 V148.4 H255.4 V149.4 H258.3 V151.4 H261.2 V153.3 H264.0 V154.8 H266.9 V156.2 H269.8 V158.1 H272.7 V160.0 H275.6 V161.9 H278.5 V163.8 H282.4 V164.6 H286.2 V165.4 H288.1 V166.6 H290.0 V167.7 H292.9 V169.1 H295.8 V170.6 H307.3 V171.2 H310.2 V175.4 H311.2 V181.1 H362.9 H363.2 V186.6 H404.0" fill="none" stroke="#9c1a40" stroke-width="2.0" stroke-linejoin="miter"/>
<path d="M87.3 27.5 H93.2 V28.8 H96.2 V31.2 H98.5 V32.7 H100.8 V34.2 H104.0 V38.8 H107.0 V41.9 H110.1 V44.2 H112.1 V46.0 H114.2 V47.8 H116.2 V49.6 H117.8 V53.5 H125.5 V54.2 H128.5 V57.3 H130.8 V58.8 H133.2 V60.4 H135.7 V61.7 H138.3 V62.9 H140.8 V64.2 H143.9 V65.3 H147.0 V66.5 H150.0 V70.0 H152.9 V72.4 H155.8 V74.8 H158.7 V77.7 H161.5 V80.6 H164.2 V82.4 H167.0 V84.2 H169.2 V84.4 H172.1 V86.8 H175.0 V89.2 H176.9 V93.1 H178.8 V96.9 H180.8 V97.8 H182.7 V98.8 H185.6 V99.8 H188.5 V100.8 H194.2 V101.7 H197.1 V103.7 H200.0 V105.6 H202.9 V106.5 H205.8 V107.5 H207.7 V109.4 H209.6 V111.3 H211.6 V113.2 H213.5 V115.2 H223.0 V116.2 H224.9 V117.6 H226.9 V119.0 H229.8 V121.4 H232.7 V123.8 H235.6 V124.8 H238.5 V125.8 H241.3 V126.8 H244.2 V127.7 H246.1 V129.6 H248.0 V131.5 H250.6 H252.5 V134.2 H254.4 V136.9 H257.3 V141.7 H265.0 V143.1 H266.9 V144.3 H268.8 V145.6 H271.4 V146.6 H273.9 V147.5 H276.5 V148.5 H280.4 V149.4 H284.2 V150.4 H287.1 V151.4 H290.0 V152.3 H292.9 V153.8 H295.8 V155.2 H298.6 V155.9 H301.5 V156.7 H313.0 V157.1 H316.0 V161.0 H318.8 V162.3 H336.2 V162.5 H339.0 V164.7 H343.8 V165.2 H344.7 V167.0 H352.1 H352.8 V170.1 H408.7" fill="none" stroke="#30497a" stroke-width="2.0" stroke-linejoin="miter"/>
<path d="M87.3 27.5 H133.0 H135.0 V29.3 H140.0 V30.5 H160.0 V31.5 H163.0 V33.3 H165.3 V34.5 H167.7 V35.8 H181.5 V36.4 H183.0 V38.7 H186.9 V39.5 H190.8 V40.2 H195.4 V41.4 H200.0 V42.5 H212.3 V43.3 H216.9 V44.0 H221.5 V44.8 H222.0 V48.5 H224.6 V55.4 H233.8 V56.2 H235.4 V58.5 H245.0 V58.8 H247.5 V60.0 H250.0 V61.2 H251.9 V63.1 H253.8 V65.0 H272.5 H275.0 V68.8 H276.9 V71.2 H278.8 V73.8 H281.5 V80.8 H295.4 V81.5 H296.9 V84.6 H299.2 V85.4 H301.5 V86.2 H303.0 V87.7 H333.8 H336.2 V91.5 H347.7 V91.8 H349.2 V95.4 H356.9 V96.2 H359.2 V100.0 H362.5 V106.3 H422.5 V106.5 H423.5 V129.6 H440.0 V130.0" fill="none" stroke="#30497a" stroke-width="1.9" stroke-dasharray="3.1 1.5"/>
<path d="M87.3 27.5 H133.0 H138.0 V28.7 H140.2 V29.5 H142.4 V30.4 H160.0 V30.8 H163.1 V32.3 H165.4 V33.8 H167.7 V35.4 H181.5 H183.1 V37.7 H186.9 V38.5 H190.8 V39.2 H195.4 V40.4 H200.0 V41.5 H212.3 V42.3 H216.9 V43.0 H221.5 V43.8 H226.2 V44.6 H227.7 V48.5 H240.0 V49.5 H247.5 V50.8 H255.0 V52.0 H257.5 V52.9 H260.0 V53.8 H263.8 V55.0 H267.5 V56.2 H277.5 V57.5 H280.0 V60.0 H284.6 V60.8 H286.2 V63.1 H290.0 V64.2 H293.8 V65.4 H296.1 V66.2 H298.5 V66.9 H300.0 V70.0 H302.3 V70.8 H304.6 V71.5 H318.5 V72.3 H324.6 V73.1 H326.9 V73.8 H329.2 V74.6 H332.3 V77.7 H340.0 V78.5 H341.5 V82.3 H344.6 V86.2 H347.7 V87.7 H358.8 V88.0 H360.0 V90.5 H375.0 V91.2 H377.5 V93.8 H379.5 V95.1 H381.5 V96.5 H386.9 V97.3 H392.3 V98.1 H393.0 V100.4 H395.4 V103.5 H397.0 V108.0 H403.0 H404.6 V111.2 H405.4 V115.8 H447.7" fill="none" stroke="#9c1a40" stroke-width="1.9" stroke-dasharray="3.1 1.5"/>
<path d="M87.3 27.5 H133.0" fill="none" stroke="#30497a" stroke-width="1.9" stroke-dasharray="3.1 1.5"/>
<path d="M107.5 366.8 H107.7 V370.6 H109.6 V373.5 H111.5 V376.3 H114.4 V378.3 H117.3 V379.2 H125.0 V380.2 H126.9 V382.1 H137.5 H139.4 V386.9 H140.4 V391.7 H153.8 H155.8 V392.7 H157.7 V393.7 H163.5 V394.6 H165.4 V395.6 H167.3 V396.5 H169.2 V397.5 H171.2 V398.5 H178.8 V399.4 H181.7 V401.3 H184.6 V406.2 H186.6 V407.6 H188.5 V409.0 H191.2 V410.6 H193.8 V412.1 H195.8 V416.9 H198.7 V420.8 H201.5 V423.7 H203.4 V425.6 H205.4 V427.5 H208.3 V432.3 H209.2 V436.2 H211.2 V440.0 H212.1 V443.8 H214.0 V446.7 H216.4 V447.7 H218.8 V448.7 H221.2 V450.1 H223.7 V451.5 H226.1 V452.5 H228.5 V453.5 H231.3 V457.3 H233.3 V460.2 H249.6 V460.8 H251.5 V465.0 H253.5 V469.8 H299.2 V470.0 H300.2 V472.3 H302.1 V473.2 H304.0 V474.2 H306.9 V477.1 H308.8 V479.0 H315.6 H316.5 V481.9 H321.3 H322.3 V486.7 H355.0 V487.3 H356.0 V489.2 H366.5 V489.6 H367.5 V492.3 H457.5" fill="none" stroke="#30497a" stroke-width="2.0" stroke-linejoin="miter"/>
<path d="M107.5 366.8 H113.5 V367.7 H115.4 V370.6 H118.3 V372.5 H121.2 V375.4 H124.0 V378.3 H126.9 V380.2 H129.8 V383.1 H131.7 V387.9 H133.7 V391.7 H138.5 V392.7 H140.4 V400.4 H150.0 V401.3 H151.0 V406.2 H166.3 V407.1 H169.2 V411.0 H171.2 V417.7 H172.1 V421.5 H180.8 V422.5 H182.7 V424.4 H196.2 V425.0 H198.7 V427.5 H201.1 V428.4 H203.5 V429.4 H205.4 V433.3 H207.8 V434.8 H210.2 V436.2 H212.1 V441.0 H215.0 V443.8 H219.8 V444.8 H222.7 V446.7 H224.6 V447.7 H226.5 V448.7 H233.3 V449.6 H235.2 V455.4 H238.1 V456.5 H241.0 V457.7 H243.8 V459.6 H264.0 V460.2 H266.0 V465.5 H292.5 V466.0 H293.5 V468.8 H300.2 H301.2 V472.3 H304.0 V474.2 H306.9 V477.1 H308.8 V479.0 H315.6 H316.5 V484.8 H354.0 H355.0 V489.8 H452.7" fill="none" stroke="#9c1a40" stroke-width="2.0" stroke-linejoin="miter"/>
<path d="M107.5 366.8 H143.5 H145.0 V367.6 H150.0 V367.9 H156.0 V368.4 H162.0 V368.8 H170.0 V369.2 H177.0 V369.6 H186.2 V370.4 H191.9 V371.5 H197.7 V372.7 H202.3 V373.9 H207.0 V375.0 H209.3 V376.8 H211.6 V378.5 H215.1 V379.6 H218.5 V380.8 H221.6 V381.9 H224.7 V383.1 H227.8 V384.2 H232.4 V385.4 H237.0 V386.6 H240.4 V387.8 H243.9 V388.9 H246.2 V390.0 H248.6 V391.2 H250.9 V392.3 H252.8 V393.2 H254.6 V394.2 H256.9 V396.5 H259.2 V398.9 H263.9 V400.0 H268.5 V401.2 H270.8 V402.4 H273.1 V403.5 H278.9 V404.6 H284.6 V405.8 H286.9 V407.0 H289.3 V408.1 H291.6 V409.3 H293.9 V410.8 H296.2 V412.4 H298.5 V413.9 H300.8 V415.0 H303.1 V416.2 H305.4 V417.3 H308.9 V418.5 H312.4 V419.7 H314.7 V421.2 H317.0 V422.8 H319.3 V424.3 H321.6 V426.0 H323.9 V427.7 H326.2 V431.2 H342.4 V431.7 H345.8 V432.4 H349.2 V433.2 H350.8 V440.0 H352.3 V446.2 H356.9 V446.9 H361.5 V447.7 H363.9 V450.6 H366.2 V453.6 H401.9 H402.4 V459.5 H469.0" fill="none" stroke="#30497a" stroke-width="1.9" stroke-dasharray="3.1 1.5"/>
<path d="M107.5 366.8 H143.5 H170.0 V368.1 H181.6 H186.2 V369.2 H209.3 V369.7 H211.6 V370.6 H213.9 V371.5 H230.0 V372.7 H232.3 V373.9 H234.7 V375.0 H237.0 V376.1 H239.3 V377.3 H241.6 V378.5 H243.9 V379.6 H246.2 V380.8 H248.6 V382.0 H250.9 V383.1 H261.5 V383.9 H263.9 V385.0 H266.2 V386.2 H268.5 V387.3 H270.8 V388.5 H273.1 V389.6 H284.6 V390.8 H287.0 V392.5 H289.3 V394.2 H291.6 V395.4 H293.9 V396.5 H296.2 V397.7 H312.4 V398.9 H315.9 V400.0 H319.3 V401.2 H326.2 V402.4 H333.1 V403.5 H335.5 V405.2 H337.8 V407.0 H340.0 V408.6 H343.1 V409.7 H346.2 V410.8 H348.2 V411.8 H350.3 V412.8 H352.3 V413.8 H354.6 V415.4 H356.9 V416.9 H385.8 H386.5 V422.0 H393.9 V422.7 H395.0 V425.7 H465.5 H465.9 V445.8 H486.2" fill="none" stroke="#9c1a40" stroke-width="1.9" stroke-dasharray="3.1 1.5"/>
<path d="M103.3 708.4 H105.5 V710.0 H107.7 V711.5 H110.6 V713.0 H113.5 V714.4 H116.3 V715.3 H119.2 V716.3 H121.1 V717.8 H123.0 V719.2 H134.6 H142.3 V720.2 H148.0 V721.2 H150.9 V722.2 H153.8 V723.1 H156.7 V724.0 H159.6 V725.0 H161.6 V726.0 H163.5 V726.9 H171.2 H173.1 V727.8 H175.0 V728.8 H176.9 V732.7 H177.9 V736.5 H180.8 V738.5 H183.1 V741.1 H185.4 V743.8 H188.0 V745.1 H190.5 V746.4 H193.1 V747.7 H196.0 V751.5 H198.8 V759.2 H200.8 V762.6 H202.7 V766.0 H204.6 V768.9 H206.5 V771.7 H210.0 V772.9 H213.5 V774.0 H216.2 H218.1 V776.2 H220.0 V778.5 H222.5 V781.1 H225.0 V783.7 H227.3 V784.5 H229.6 V785.2 H231.6 V787.6 H233.5 V790.0 H236.9 V796.9 H240.4 V803.9 H243.3 V806.2 H246.2 V808.5 H248.5 V809.6 H250.8 V810.8 H253.1 V811.9 H255.4 V813.2 H257.7 V814.6 H260.0 V815.9 H271.6 V817.3 H273.9 V818.6 H276.2 V820.0 H278.5 V825.8 H280.8 V828.1 H283.1 V830.4 H285.4 V832.1 H287.7 V833.9 H292.4 V834.8 H297.0 V835.7 H300.8 V836.6 H304.7 V837.6 H308.5 V838.5 H310.8 V839.4 H313.1 V840.2 H315.5 V841.1 H317.8 V842.0 H320.1 V843.5 H322.4 V845.0 H328.1 V845.8 H333.9 V846.6 H337.4 V847.8 H340.9 V848.9 H342.8 V850.0 H344.6 V851.1 H374.6 H376.2 V856.9 H377.7 V862.3 H386.2 V862.8 H386.9 V864.8 H422.5 H423.1 V870.1 H455.4 H456.9 V872.7 H459.5 V874.2" fill="none" stroke="#30497a" stroke-width="2.0" stroke-linejoin="miter"/>
<clipPath id="cgap"><rect x="0.0" y="0" width="288.3" height="1008"/><rect x="291.2" y="0" width="29.8" height="1008"/><rect x="325.8" y="0" width="30.7" height="1008"/><rect x="360.4" y="0" width="70.4" height="1008"/><rect x="436.5" y="0" width="83.5" height="1008"/></clipPath>
<path d="M103.3 708.4 H111.5 V709.6 H115.3 V710.5 H119.2 V711.5 H123.1 V712.5 H126.9 V713.5 H129.8 V714.5 H132.7 V715.4 H144.2 H145.2 V719.2 H147.6 V720.2 H150.0 V721.2 H152.9 V725.0 H155.8 V729.8 H157.7 V730.8 H159.6 V731.7 H162.5 V733.7 H165.4 V735.6 H168.3 V737.0 H171.2 V738.5 H174.0 V742.3 H176.0 V746.2 H176.9 V751.9 H177.9 V757.7 H178.8 V765.4 H180.8 V771.2 H182.7 V773.6 H184.6 V776.0 H186.9 V776.8 H189.2 V777.5 H191.6 V778.5 H194.0 V779.4 H196.0 V784.2 H197.9 V792.9 H199.8 V797.7 H202.2 V799.2 H204.6 V800.6 H207.5 V802.0 H210.4 V803.5 H213.3 V806.4 H216.2 V809.2 H219.1 V813.0 H221.9 V816.9 H224.8 V818.3 H227.7 V819.8 H230.0 V821.2 H232.3 V822.3 H234.6 V823.5 H236.9 V824.6 H239.2 V832.7 H248.5 V833.9 H250.8 V835.0 H253.1 V836.2 H255.4 V837.3 H257.7 V840.2 H260.0 V843.1 H265.8 V844.2 H271.6 V845.4 H274.3 V846.9 H277.0 V848.5 H279.7 V850.0 H287.7 V851.2 H291.2 V852.4 H294.7 V853.5 H299.3 V854.6 H303.9 V855.8 H308.5 V856.6 H313.1 V857.4 H320.0 V858.1 H333.9 V858.8 H340.9 V860.2 H349.2 V860.3 H351.5 V862.3 H355.4 V863.4 H378.5 H379.2 V864.6 H398.5 V864.8 H399.2 V870.8 H424.6 V871.9 H455.4 H456.9 V874.2 H458.5 V875.8 H459.2 V878.8" fill="none" stroke="#9c1a40" stroke-width="2.0" stroke-linejoin="miter" clip-path="url(#cgap)"/>
<path d="M103.3 708.4 H146.0 H148.0 V709.0 H178.5 V709.2 H180.4 V711.5 H183.3 V714.4 H186.2 V716.9 H197.7 V717.3 H199.6 V718.5 H232.5 H234.3 V719.4 H236.2 V720.2 H238.5 H242.3 V721.2 H246.2 V722.1 H251.0 V723.0 H255.8 V724.0 H257.7 V726.0 H259.6 V727.9 H261.6 V728.8 H263.5 V729.8 H269.2 V730.8 H275.0 V731.7 H276.9 V736.5 H278.8 V741.3 H290.0 V741.9 H293.5 V743.1 H295.8 V746.6 H299.2 V748.9 H306.2 V750.0 H309.6 V751.1 H313.1 V752.3 H315.4 V754.6 H317.7 V757.0 H324.6 V758.1 H327.0 V759.2 H329.3 V760.4 H332.8 V761.3 H336.2 V762.3 H354.7 H355.8 V767.3 H359.9 V768.1 H363.9 V769.0 H366.2 V775.6 H422.1 H422.7 V781.5 H428.8 V782.7 H429.8 V790.8 H477.0 H477.9 V835.2 H487.6 H487.7 V879.0" fill="none" stroke="#30497a" stroke-width="1.9" stroke-dasharray="3.1 1.5"/>
<path d="M103.3 708.4 H217.8 V732.3 H281.7 V762.1 H297.3 V791.6 H369.4 V879.8" fill="none" stroke="#9c1a40" stroke-width="1.9" stroke-dasharray="3.1 1.5"/>
<path d="M103.3 708.4 H146.0" fill="none" stroke="#30497a" stroke-width="1.9" stroke-dasharray="3.1 1.5"/>
</svg></body></html>
